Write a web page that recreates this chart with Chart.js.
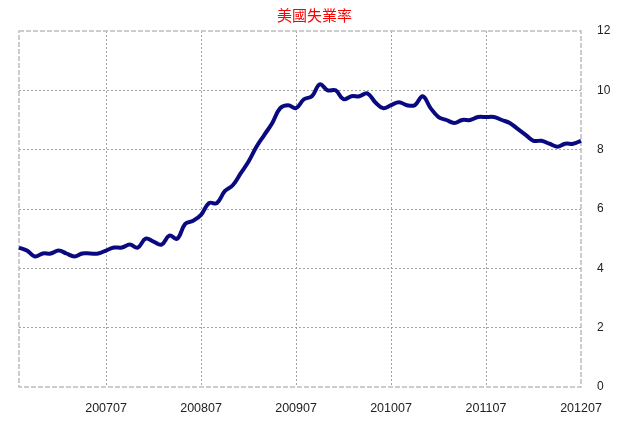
<!DOCTYPE html>
<html lang="zh-Hant">
<head>
<meta charset="UTF-8">
<title>美國失業率</title>
<style>
  body { margin: 0; padding: 0; background: #ffffff; }
  canvas { display: block; }
</style>
</head>
<body>
<canvas id="rateChart" width="619" height="423"></canvas>

<script src="https://cdn.jsdelivr.net/npm/chart.js@4.4.1/dist/chart.umd.min.js"></script>
<script>
// 月份 (2006/08 - 2012/07)
const months = [
  '200608', '200609', '200610', '200611', '200612',
  '200701', '200702', '200703', '200704', '200705', '200706', '200707', '200708', '200709', '200710', '200711', '200712',
  '200801', '200802', '200803', '200804', '200805', '200806', '200807', '200808', '200809', '200810', '200811', '200812',
  '200901', '200902', '200903', '200904', '200905', '200906', '200907', '200908', '200909', '200910', '200911', '200912',
  '201001', '201002', '201003', '201004', '201005', '201006', '201007', '201008', '201009', '201010', '201011', '201012',
  '201101', '201102', '201103', '201104', '201105', '201106', '201107', '201108', '201109', '201110', '201111', '201112',
  '201201', '201202', '201203', '201204', '201205', '201206', '201207'
];

// 失業率 (%)
const unemployment = [
  4.7, 4.6, 4.4, 4.5, 4.5,
  4.6, 4.5, 4.4, 4.5, 4.5, 4.5, 4.6, 4.7, 4.7, 4.8, 4.7, 5.0,
  4.9, 4.8, 5.1, 5.0, 5.5, 5.6, 5.8, 6.2, 6.2, 6.6, 6.8, 7.2,
  7.6, 8.1, 8.5, 8.9, 9.4, 9.5, 9.4, 9.7, 9.8, 10.2, 10.0, 10.0,
  9.7, 9.8, 9.8, 9.9, 9.6, 9.4, 9.5, 9.6, 9.5, 9.5, 9.8, 9.4,
  9.1, 9.0, 8.9, 9.0, 9.0, 9.1, 9.1, 9.1, 9.0, 8.9, 8.7, 8.5,
  8.3, 8.3, 8.2, 8.1, 8.2, 8.2, 8.3
];

// x 軸只標示每年七月
const xTickLabels = ['200707', '200807', '200907', '201007', '201107', '201207'];
const yTicks = [0, 2, 4, 6, 8, 10, 12];

// 外框 (虛線)
const framePlugin = {
  id: 'frame',
  beforeDatasetsDraw(chart) {
    const { ctx, chartArea: a } = chart;
    ctx.save();
    ctx.strokeStyle = '#bdbdbd';
    ctx.lineWidth = 1.5;
    ctx.setLineDash([5, 2]);
    ctx.strokeRect(a.left, a.top, a.right - a.left, a.bottom - a.top);
    ctx.restore();
  }
};

const ctx = document.getElementById('rateChart').getContext('2d');

new Chart(ctx, {
  type: 'line',
  data: {
    labels: months,
    datasets: [{
      label: '美國失業率',
      data: unemployment,
      borderColor: '#0a0a80',
      borderWidth: 4,
      pointRadius: 0,
      tension: 0.4,
      fill: false
    }]
  },
  options: {
    responsive: false,
    animation: false,
    layout: { padding: { left: 19, right: 9, top: 0, bottom: 8 } },
    plugins: {
      legend: { display: false },
      tooltip: { enabled: false },
      title: {
        display: true,
        text: '美國失業率',
        color: '#ff0000',
        font: { family: '"Noto Sans CJK TC", "Noto Sans CJK SC", sans-serif', size: 15, weight: 'normal' },
        padding: { top: 6, bottom: 7 }
      }
    },
    scales: {
      x: {
        offset: false,
        border: { display: false, dash: [2, 2] },
        grid: {
          drawTicks: false,
          lineWidth: 1,
          color: (c) => {
            const lab = months[c.index];
            return (xTickLabels.includes(lab) && c.index < months.length - 1) ? '#a3a3a3' : 'transparent';
          }
        },
        ticks: {
          autoSkip: false,
          maxRotation: 0,
          padding: 14,
          color: '#222222',
          font: { family: '"Liberation Sans", Arial, sans-serif', size: 12.5 },
          callback: (v, i) => xTickLabels.includes(months[i]) ? months[i] : ''
        },
        afterFit: (s) => {
          s.height = 28;
          s.paddingLeft = 0;
          s.paddingRight = 0;
        }
      },
      y: {
        position: 'right',
        min: yTicks[0],
        max: yTicks[yTicks.length - 1],
        border: { display: false, dash: [2, 2] },
        grid: {
          drawTicks: false,
          lineWidth: 1,
          color: (c) => (c.tick.value > 0 && c.tick.value < 12) ? '#a3a3a3' : 'transparent'
        },
        ticks: {
          stepSize: 2,
          padding: 16,
          color: '#222222',
          font: { family: '"Liberation Sans", Arial, sans-serif', size: 12 }
        },
        afterFit: (s) => {
          s.width = 29;
          s.paddingTop = 0;
          s.paddingBottom = 0;
        }
      }
    }
  },
  plugins: [framePlugin]
});
</script>
</body>
</html>
